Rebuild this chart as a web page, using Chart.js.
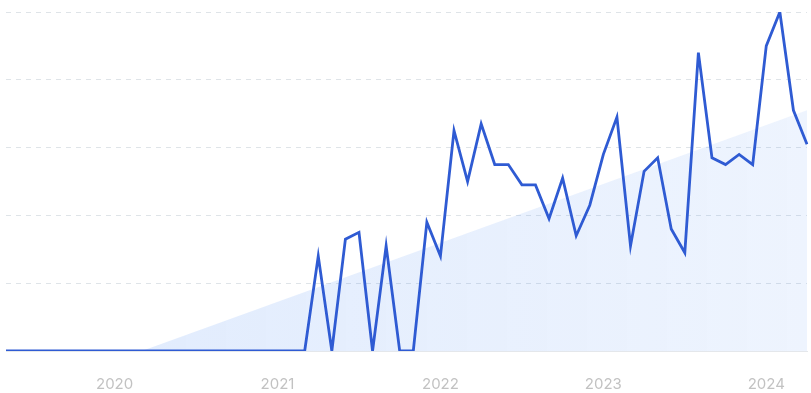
<!DOCTYPE html>
<html>
<head>
<meta charset="utf-8">
<script src="https://cdn.jsdelivr.net/npm/chart.js@4/dist/chart.umd.min.js"></script>
<style>
  html, body { margin: 0; padding: 0; background: #fff; }
  #wrap { width: 811px; height: 393px; position: relative; }
</style>
</head>
<body>
<div id="wrap"><canvas id="lineChart"></canvas></div>
<script>
    // =========================
    // Données
    // =========================

    const months = [
      '2019-05', '2019-06', '2019-07', '2019-08', '2019-09', '2019-10', '2019-11', '2019-12',
      '2020-01', '2020-02', '2020-03', '2020-04', '2020-05', '2020-06', '2020-07', '2020-08', '2020-09', '2020-10', '2020-11', '2020-12',
      '2021-01', '2021-02', '2021-03', '2021-04', '2021-05', '2021-06', '2021-07', '2021-08', '2021-09', '2021-10', '2021-11', '2021-12',
      '2022-01', '2022-02', '2022-03', '2022-04', '2022-05', '2022-06', '2022-07', '2022-08', '2022-09', '2022-10', '2022-11', '2022-12',
      '2023-01', '2023-02', '2023-03', '2023-04', '2023-05', '2023-06', '2023-07', '2023-08', '2023-09', '2023-10', '2023-11', '2023-12',
      '2024-01', '2024-02', '2024-03', '2024-04'
    ];

    const interest = [
      0, 0, 0, 0, 0, 0, 0, 0,
      0, 0, 0, 0, 0, 0, 0, 0, 0, 0, 0, 0,
      0, 0, 0, 28, 0, 33, 35, 0, 31, 0, 0, 38,
      28, 65, 50, 67, 55, 55, 49, 49, 39, 51, 34, 43,
      58, 69, 31, 53, 57, 36, 29, 88, 57, 55, 58, 55,
      90, 100, 71, 61
    ];

    // tendance : début et fin
    const trendStart = { month: '2020-03', value: 0 };
    const trendEnd = { month: '2024-04', value: 71 };

    const yTicks = [0, 20, 40, 60, 80, 100];

    const trend = months.map(m => {
      if (m === trendStart.month) return trendStart.value;
      if (m === trendEnd.month) return trendEnd.value;
      return null;
    });

    // =========================
    // Graphique
    // =========================

    const lineCtx = document.getElementById('lineChart');

    new Chart(lineCtx, {
      type: 'line',
      data: {
        labels: months,
        datasets: [
          {
            label: 'Intérêt',
            data: interest,
            borderColor: '#2f5bd3',
            borderWidth: 2.8,
            pointRadius: 0,
            tension: 0,
            fill: false,
            order: 0
          },
          {
            label: 'Tendance',
            data: trend,
            spanGaps: true,
            borderWidth: 0,
            pointRadius: 0,
            fill: 'origin',
            backgroundColor: (context) => {
              const area = context.chart.chartArea;
              if (!area) return 'rgba(66, 133, 244, 0.14)';
              const g = context.chart.ctx.createLinearGradient(area.left, 0, area.right, 0);
              g.addColorStop(0, 'rgba(66, 133, 244, 0.17)');
              g.addColorStop(1, 'rgba(66, 133, 244, 0.09)');
              return g;
            },
            order: 1
          }
        ]
      },
      options: {
        responsive: true,
        maintainAspectRatio: false,
        animation: false,
        layout: {
          padding: { left: 6, right: 4, top: 12, bottom: 0 }
        },
        plugins: {
          legend: { display: false },
          tooltip: { enabled: false }
        },
        scales: {
          x: {
            offset: false,
            grid: { display: false },
            border: { display: true, color: '#e4e7eb', width: 1 },
            afterFit: (axis) => {
              axis.height = 42;
              axis.paddingLeft = 0;
              axis.paddingRight = 0;
            },
            ticks: {
              autoSkip: false,
              maxRotation: 0,
              minRotation: 0,
              padding: 16,
              color: '#c2c2c2',
              font: { family: 'Inter', size: 15 },
              callback: function (value) {
                const m = months[value];
                return m.endsWith('-01') ? m.slice(0, 4) : '';
              }
            }
          },
          y: {
            min: 0,
            max: 100,
            afterBuildTicks: (axis) => {
              axis.ticks = yTicks.map(v => ({ value: v }));
            },
            afterFit: (axis) => {
              axis.width = 0;
            },
            ticks: { display: false },
            grid: {
              drawTicks: false,
              color: (context) => context.tick && context.tick.value === 0 ? 'rgba(0,0,0,0)' : '#dfe4e8',
              lineWidth: 1
            },
            border: { display: false, dash: [5, 5] }
          }
        }
      }
    });
</script>
</body>
</html>
